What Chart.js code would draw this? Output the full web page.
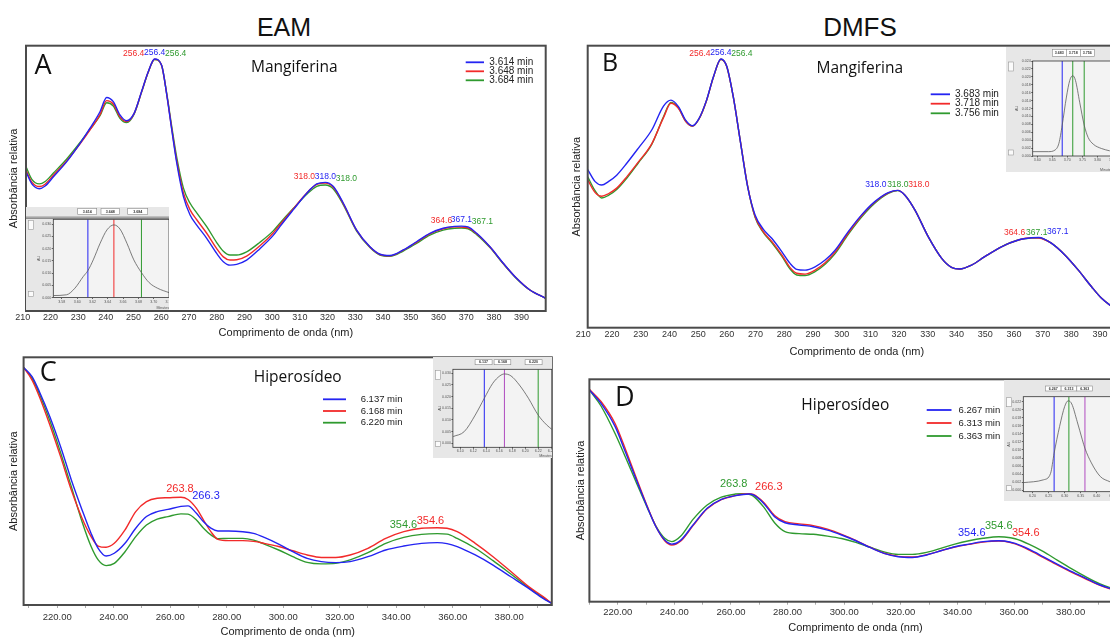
<!DOCTYPE html>
<html lang="pt">
<head>
<meta charset="utf-8">
<title>Espectros UV – mangiferina e hiperosídeo</title>
<script src="https://cdn.jsdelivr.net/npm/chart.js@4.4.1/dist/chart.umd.min.js"></script>
<style>
  html, body { margin: 0; width: 1110px; height: 637px; overflow: hidden; background: #fff; }
  canvas { position: absolute; }
  .head { position: absolute; transform: translate(-50%, -50%); font: 25px "Liberation Sans", Arial, sans-serif; color: #111; white-space: nowrap; }
</style>
</head>
<body>
<div class="head" style="left:284px;top:27px">EAM</div>
<div class="head" style="left:860px;top:27px;font-size:26px">DMFS</div>
<script>
// wavelength ticks shared by the four spectra
const tickNm = [210, 220, 230, 240, 250, 260, 270, 280, 290, 300, 310, 320, 330, 340, 350, 360, 370, 380, 390];

// ---- A: EAM, mangiferina (relative absorbance, 0-100) ----
const nmA = [210, 212.1, 214.8, 216.9, 219.9, 224.7, 229.5, 233.1, 236.7, 239.1, 241.5, 243.9, 246.3, 249, 251.7, 254.1, 256.4, 258.9, 260.8, 262.6,
  264.4, 266.8, 269.2, 271.6, 275.2, 278.8, 281.2, 283.6, 286, 289.6, 294.4, 299.2, 301.6, 306.4, 311.3, 314.9, 318, 320.9, 324.5, 329.3,
  334.1, 337.7, 341.3, 346.1, 350.9, 355.7, 360.5, 364.6, 367.1, 369.5, 372.6, 377.4, 382.2, 387, 391.8, 397.5];
const absA1 = [52.5, 47.9, 46.1, 47.1, 50.6, 56.3, 63.2, 68.9, 75.1, 80.5, 78.9, 73.9, 71.7, 74.5, 82.7, 90.2, 95.0, 92.7, 81.4, 68.2,
  55.7, 43.1, 36.2, 32.4, 27.4, 21.7, 18.6, 17.3, 17.6, 19.2, 23.5, 28.5, 31.8, 38.1, 44.4, 47.9, 48.5, 46.9, 40.6, 30.5,
  24.2, 21.4, 20.9, 23.0, 26.1, 29.3, 31.2, 31.9, 32.0, 31.7, 29.3, 24.2, 18.0, 12.3, 7.9, 4.8];
const absA2 = [53.1, 48.6, 46.9, 47.8, 51.2, 56.6, 63.0, 68.3, 74.0, 79.3, 78.0, 73.2, 71.4, 74.4, 82.6, 90.1, 94.9, 92.6, 81.5, 68.6,
  56.5, 44.5, 38.1, 34.4, 29.3, 23.5, 20.4, 19.2, 19.3, 20.7, 24.6, 29.4, 32.5, 38.5, 44.5, 47.7, 48.2, 46.6, 40.4, 30.4,
  24.1, 21.3, 20.8, 22.9, 25.9, 29.1, 31.0, 31.7, 31.6, 31.3, 29.1, 24.1, 17.9, 12.3, 7.9, 4.8];
const absA3 = [54.4, 49.6, 47.9, 48.8, 52.0, 57.3, 63.5, 68.5, 73.6, 78.5, 77.3, 72.6, 71.0, 74.2, 82.5, 90.0, 94.8, 92.6, 81.8, 69.4,
  57.8, 46.3, 40.6, 37.0, 31.8, 25.8, 22.5, 21.1, 21.1, 22.3, 25.9, 30.2, 33.1, 38.6, 44.0, 47.0, 47.5, 46.0, 40.0, 30.1,
  23.9, 21.1, 20.6, 22.6, 25.5, 28.6, 30.5, 31.2, 31.3, 31.0, 28.8, 23.9, 17.8, 12.2, 7.9, 4.8];
const timesA = ['3.614 min', '3.648 min', '3.684 min'];
const peaksA = [[256.4, 318.0, 367.1], [256.4, 318.0, 364.6], [256.4, 318.0, 367.1]];

// ---- B: DMFS, mangiferina ----
const nmB = [210, 212.6, 214.9, 217.2, 220.1, 223.6, 227.6, 232.3, 236.4, 239, 241.6, 244.1, 246.5, 248.8, 251.4, 253.8, 256.4, 258.4, 260.7, 263.1,
  265.7, 268.3, 271.2, 274.1, 277.6, 280.5, 282.8, 285.7, 289.2, 292.7, 296.1, 300.7, 305.4, 310, 314.7, 318, 320.5, 324, 328.6, 333.3,
  336.7, 339.6, 343.7, 348.3, 354.1, 360, 364.6, 367.1, 371.6, 376.2, 380.9, 385.5, 389, 391.9, 397.5];
const absB1 = [56.1, 51.8, 50.6, 51.8, 54.1, 58.3, 63.6, 70.1, 78.6, 80.7, 78.4, 73.6, 71.6, 74.2, 80.7, 89.0, 95.3, 92.8, 81.9, 66.5,
  50.0, 40.0, 34.9, 31.7, 27.0, 22.8, 20.7, 20.4, 21.6, 24.0, 27.4, 34.0, 40.0, 44.7, 47.9, 48.7, 47.0, 41.7, 32.3, 24.6,
  21.4, 20.8, 22.2, 25.2, 28.7, 31.1, 31.9, 32.0, 29.9, 25.8, 20.4, 14.5, 10.4, 8.0, 4.5];
const absB2 = [52.4, 47.9, 46.6, 47.5, 49.5, 53.5, 58.7, 65.2, 74.5, 79.6, 77.8, 73.2, 71.5, 74.1, 80.6, 88.9, 95.2, 92.7, 81.9, 66.6,
  50.3, 39.4, 34.0, 30.6, 25.8, 21.3, 19.3, 19.0, 20.4, 23.0, 26.7, 33.5, 39.7, 44.5, 47.8, 48.7, 47.0, 41.7, 32.3, 24.6,
  21.4, 20.8, 22.2, 25.2, 28.7, 31.1, 31.9, 31.8, 29.9, 25.8, 20.4, 14.5, 10.4, 8.0, 4.5];
const absB3 = [53.5, 48.5, 46.0, 46.9, 49.0, 53.0, 58.4, 65.0, 74.8, 79.9, 78.0, 73.3, 71.5, 74.1, 80.6, 88.9, 95.2, 92.7, 81.9, 66.6,
  50.2, 39.2, 33.7, 30.2, 25.4, 20.8, 18.7, 18.5, 19.9, 22.5, 26.2, 33.0, 39.2, 44.1, 47.6, 48.6, 47.0, 41.7, 32.3, 24.6,
  21.4, 20.8, 22.2, 25.2, 28.7, 31.1, 31.8, 31.9, 29.9, 25.8, 20.4, 14.5, 10.4, 8.0, 4.5];
const timesB = ['3.683 min', '3.718 min', '3.756 min'];
const peaksB = [[256.4, 318.0, 367.1], [256.4, 318.0, 364.6], [256.4, 318.0, 367.1]];

// ---- C: EAM, hiperosídeo ----
const nmC = [208.1, 211.1, 213.7, 217.4, 221.2, 225, 228.8, 232, 234.5, 237.3, 240.2, 244, 247.8, 251.6, 255.4, 259.2, 263.8, 266.3, 269.3, 271.8,
  274.4, 276.9, 280.7, 285.7, 289.5, 293.3, 298.4, 303.4, 308.5, 313.5, 318.6, 323.7, 330, 336.3, 342.7, 349, 354.6, 358, 361.6, 368,
  374.3, 380.6, 386.9, 392, 395];
const absC1 = [95.9, 92.2, 86.1, 76.0, 63.9, 50.5, 38.4, 28.9, 22.9, 19.8, 20.9, 24.9, 31.0, 35.7, 37.7, 38.6, 39.8, 40.0, 37.0, 33.6,
  31.0, 29.9, 29.9, 29.6, 28.9, 27.3, 24.6, 21.5, 18.8, 17.5, 17.1, 17.5, 19.5, 22.2, 23.8, 24.9, 25.2, 24.8, 23.6, 20.2,
  16.1, 11.4, 6.7, 2.7, 0.7];
const absC2 = [95.9, 90.8, 84.1, 72.7, 59.9, 46.4, 35.0, 27.6, 23.8, 23.3, 24.9, 30.3, 37.7, 41.7, 43.1, 43.3, 43.5, 42.6, 39.0, 34.3,
  29.6, 26.5, 26.0, 26.0, 25.7, 24.9, 23.6, 21.9, 20.2, 19.2, 19.2, 20.2, 22.9, 26.9, 29.6, 31.0, 31.2, 31.0, 29.6, 24.9,
  19.5, 13.5, 7.4, 3.4, 0.7];
const absC3 = [95.9, 91.5, 85.2, 74.4, 61.5, 47.8, 33.6, 23.6, 18.2, 15.9, 16.8, 21.5, 27.6, 32.3, 34.7, 35.7, 36.8, 36.7, 34.3, 31.0,
  28.3, 26.8, 26.9, 26.9, 26.2, 24.6, 22.2, 19.5, 17.2, 16.6, 16.8, 18.2, 21.1, 24.9, 27.3, 28.5, 28.8, 28.6, 26.9, 22.9,
  17.9, 12.5, 7.0, 3.0, 0.7];
const timesC = ['6.137 min', '6.168 min', '6.220 min'];
const peaksC = [[266.3], [263.8, 354.6], [354.6]];

// ---- D: DMFS, hiperosídeo ----
const nmD = [210, 214.1, 219.1, 222.9, 226.6, 230.4, 233.5, 236.6, 239.1, 242.3, 246.6, 251.6, 256.6, 261.6, 263.8, 266.3, 267.9, 271.6, 275.4, 279.1,
  284.1, 289.1, 294.1, 299.1, 304.1, 309.1, 314.1, 319.1, 324.1, 329.1, 334.1, 339.1, 344.1, 349.1, 354.6, 356.6, 360.4, 365.4, 370.4, 375.4,
  380.4, 385.4, 390.4, 393.9, 398];
const absD1 = [95.2, 89.2, 78.7, 66.7, 54.7, 42.7, 33.7, 27.7, 25.9, 27.7, 34.5, 42.0, 46.0, 47.7, 48.1, 48.4, 48.0, 44.2, 38.2, 35.5,
  34.5, 33.7, 32.2, 30.0, 27.4, 24.4, 21.7, 20.2, 19.9, 21.0, 22.9, 24.7, 25.9, 27.0, 27.4, 27.3, 26.2, 23.5, 20.2, 16.8,
  13.5, 10.5, 7.5, 6.0, 4.6];
const absD2 = [95.5, 90.0, 80.0, 68.0, 55.5, 43.0, 33.8, 27.4, 25.5, 27.3, 34.2, 41.8, 45.9, 47.7, 48.3, 48.6, 48.2, 44.6, 38.8, 36.0,
  35.0, 34.2, 32.6, 30.3, 27.6, 24.5, 21.8, 20.4, 20.1, 21.1, 22.9, 24.6, 25.8, 26.8, 27.3, 27.2, 26.0, 23.2, 19.8, 16.4,
  13.2, 10.2, 7.3, 5.8, 4.5];
const absD3 = [95.2, 88.0, 75.5, 64.5, 53.5, 42.4, 34.0, 28.5, 27.0, 29.5, 37.0, 43.5, 47.0, 48.4, 48.6, 48.3, 47.5, 42.5, 35.5, 31.5,
  30.6, 30.3, 29.5, 28.4, 26.7, 24.5, 22.4, 21.3, 21.3, 22.2, 24.0, 25.9, 27.4, 28.5, 29.2, 29.1, 28.3, 25.8, 22.5, 18.6,
  14.8, 11.2, 8.0, 6.3, 4.7];
const timesD = ['6.267 min', '6.313 min', '6.363 min'];
const peaksD = [[354.6], [266.3, 354.6], [263.8, 354.6]];

// ---- chromatogram peaks in the insets (min, AU) ----
const tInA = [3.569, 3.586, 3.597, 3.608, 3.614, 3.621, 3.630, 3.639, 3.648, 3.656, 3.665, 3.674, 3.684, 3.694, 3.705, 3.720];
const auInA = [0.0008, 0.0011, 0.0038, 0.0086, 0.0110, 0.0154, 0.0222, 0.0277, 0.0297, 0.0280, 0.0222, 0.0154, 0.0102, 0.0061, 0.0038, 0.0020];
const cutsA = [3.614, 3.648, 3.684];
const tInB = [3.585, 3.637, 3.659, 3.672, 3.683, 3.697, 3.708, 3.718, 3.727, 3.741, 3.756, 3.769, 3.786, 3.813, 3.841];
const auInB = [0.0011, 0.0011, 0.0015, 0.0032, 0.0078, 0.0149, 0.0191, 0.0203, 0.0191, 0.0136, 0.0078, 0.0047, 0.0030, 0.0019, 0.0013];
const cutsB = [3.683, 3.718, 3.756];
const tInC = [6.089, 6.106, 6.123, 6.137, 6.150, 6.161, 6.168, 6.178, 6.191, 6.205, 6.220, 6.233, 6.241];
const auInC = [0.0029, 0.0050, 0.0121, 0.0193, 0.0257, 0.0289, 0.0297, 0.0289, 0.0250, 0.0193, 0.0121, 0.0079, 0.0060];
const cutsC = [6.137, 6.168, 6.220];
const tInD = [6.171, 6.234, 6.256, 6.267, 6.284, 6.300, 6.311, 6.322, 6.339, 6.355, 6.363, 6.383, 6.411, 6.441];
const auInD = [0.0019, 0.0026, 0.0042, 0.0092, 0.0158, 0.0208, 0.0222, 0.0214, 0.0170, 0.0125, 0.0104, 0.0068, 0.0034, 0.0021];
const cutsD = [6.267, 6.313, 6.363];

const BLUE = '#2424f2', RED = '#f22a2a', GREEN = '#2f9a2f', PURPLE = '#b04cc0';
const LINE = [BLUE, RED, GREEN];

Chart.defaults.font.family = '"Liberation Sans", Arial, sans-serif';
Chart.defaults.color = '#333';

function addCanvas(left, top, w, h) {
  const c = document.createElement('canvas');
  c.width = w; c.height = h;
  c.style.left = left + 'px';
  c.style.top = top + 'px';
  document.body.appendChild(c);
  return c;
}

// frame, panel letter, compound name, legend and the λmax labels
function decor(d) {
  return {
    id: 'decor',
    afterDatasetsDraw(chart) {
      const { ctx, chartArea: a, scales: { x, y } } = chart;
      const sets = chart.data.datasets;
      ctx.save();
      ctx.strokeStyle = '#4b4b4b';
      ctx.lineWidth = 2;
      ctx.strokeRect(a.left, a.top, a.width, a.height);

      ctx.textAlign = 'center';
      ctx.textBaseline = 'middle';
      ctx.fillStyle = '#111';
      ctx.font = d.letterSize + 'px "Open Sans"';
      ctx.fillText(d.letter, a.left + d.letterAt[0], a.top + d.letterAt[1]);
      ctx.font = '15.5px "Open Sans"';
      ctx.fillText(d.name, a.left + d.nameAt[0], a.top + d.nameAt[1]);

      ctx.font = d.legendSize + 'px "Liberation Sans"';
      ctx.textAlign = 'left';
      sets.forEach((s, i) => {
        const yy = a.top + d.rows[i];
        ctx.strokeStyle = s.borderColor;
        ctx.lineWidth = 1.8;
        ctx.beginPath();
        ctx.moveTo(a.left + d.swatch[0], yy);
        ctx.lineTo(a.left + d.swatch[1], yy);
        ctx.stroke();
        ctx.fillStyle = '#222';
        ctx.fillText(s.label, a.left + d.textX, yy);
      });

      ctx.font = d.peakSize + 'px "Liberation Sans"';
      ctx.textAlign = 'center';
      d.peaks.forEach((list, i) => list.forEach((nm, j) => {
        const pt = sets[i].data.find(p => p.x === nm);
        const [dx, dy] = d.shift[i][j];
        ctx.fillStyle = sets[i].borderColor;
        ctx.fillText(nm.toFixed(1), x.getPixelForValue(nm) + dx, y.getPixelForValue(pt.y) + dy);
      }));
      ctx.restore();
    }
  };
}

function spectrum(p) {
  const LH = 11 * 1.2;
  const [fl, ft, fr, fb] = p.frame;
  const cl = p.left, ct = Math.floor(ft - 2);
  const cw = Math.ceil(fr + 2 - cl), ch = Math.ceil(p.titleY + LH / 2 + 1 - ct);
  const cv = addCanvas(cl, ct, cw, ch);
  const xh = ct + ch - fb;
  new Chart(cv, {
    type: 'line',
    data: {
      datasets: p.series.map((v, i) => ({
        label: p.times[i],
        data: p.nm.map((nm, k) => ({ x: nm, y: v[k] })),
        borderColor: LINE[i],
        borderWidth: 1.4,
        pointRadius: 0,
        cubicInterpolationMode: 'monotone',
        fill: false
      }))
    },
    options: {
      responsive: false,
      animation: false,
      events: [],
      layout: { autoPadding: false, padding: { left: 0, top: ft - ct, right: cl + cw - fr, bottom: 0 } },
      plugins: { legend: { display: false }, tooltip: { enabled: false } },
      scales: {
        x: {
          type: 'linear', min: p.min, max: p.max,
          afterBuildTicks: s => { s.ticks = tickNm.map(value => ({ value })); },
          afterFit: s => { s.height = xh; s.paddingLeft = 0; s.paddingRight = 0; },
          grid: { display: p.marks, drawOnChartArea: false, drawTicks: p.marks, tickLength: 3, color: '#aaa' },
          border: { display: false },
          ticks: {
            autoSkip: false, maxRotation: 0, padding: p.tickPad, labelOffset: p.labelOffset,
            color: '#333', font: { size: p.tickSize }, callback: p.fmt
          },
          title: {
            display: true, text: 'Comprimento de onda (nm)', color: '#222', font: { size: 11 },
            padding: { top: 0, bottom: ct + ch - LH / 2 - p.titleY }
          }
        },
        y: {
          min: 0, max: 100,
          afterFit: s => { s.width = fl - cl; s.paddingTop = 0; s.paddingBottom = 0; },
          ticks: { display: false },
          grid: { display: false },
          border: { display: false },
          title: {
            display: true, text: 'Absorbância relativa', color: '#222', font: { size: 11 },
            padding: { top: p.titleX - cl - LH / 2, bottom: 0 }
          }
        }
      }
    },
    plugins: [decor(p.decor)]
  });
}

// small chromatogram with the three spectrum cuts
function inset(q) {
  const [bl, bt, bw, bh] = q.box;
  const [al, at, ar, ab] = q.area;
  const cv = addCanvas(bl, bt, bw, bh);
  const sets = [{
    data: q.t.map((t, k) => ({ x: t, y: q.au[k] })),
    borderColor: '#5c5c5c', borderWidth: 0.8, pointRadius: 0, cubicInterpolationMode: 'monotone'
  }];
  q.cuts.forEach((c, i) => sets.push({
    data: [{ x: c, y: q.y[0] }, { x: c, y: q.y[1] }],
    borderColor: q.cutColors[i], borderWidth: 1, pointRadius: 0
  }));
  const tiny = { size: 3.6 };
  new Chart(cv, {
    type: 'line',
    data: { datasets: sets },
    options: {
      responsive: false,
      animation: false,
      events: [],
      layout: { autoPadding: false, padding: { left: 0, top: at - bt, right: bl + bw - ar, bottom: 0 } },
      plugins: { legend: { display: false }, tooltip: { enabled: false } },
      scales: {
        x: {
          type: 'linear', min: q.x[0], max: q.x[1],
          afterFit: s => { s.height = bt + bh - ab; s.paddingLeft = 0; s.paddingRight = 0; },
          grid: { drawOnChartArea: false, tickLength: 1.5, color: '#666' },
          border: { display: false },
          ticks: { stepSize: q.xStep, includeBounds: false, autoSkip: false, maxRotation: 0, padding: 0.5, color: '#555', font: tiny, callback: v => v.toFixed(2) },
          title: { display: true, text: 'Minutes', align: 'end', color: '#555', font: tiny, padding: 0 }
        },
        y: {
          min: q.y[0], max: q.y[1],
          afterFit: s => { s.width = al - bl; s.paddingTop = 0; s.paddingBottom = 0; },
          grid: { drawOnChartArea: false, tickLength: 1.5, color: '#666' },
          border: { display: false },
          ticks: { stepSize: q.yStep, includeBounds: false, autoSkip: false, padding: 0.5, color: '#555', font: tiny, callback: v => v.toFixed(3) },
          title: { display: true, text: 'AU', color: '#555', font: tiny, padding: { top: q.auX - 2.2, bottom: 0 } }
        }
      }
    },
    plugins: [{
      id: 'insetFrame',
      beforeDraw(chart) {
        const { ctx, chartArea: a, width, height } = chart;
        ctx.save();
        ctx.fillStyle = '#e7e7e7';
        ctx.fillRect(0, 0, width, height);
        ctx.fillStyle = '#f3f3f3';
        ctx.fillRect(a.left, a.top, a.width, a.height);
        if (q.rule) {
          ctx.strokeStyle = '#6a6a6a';
          ctx.lineWidth = 0.8;
          [a.top - 2.2, a.top - 0.9].forEach(yy => {
            ctx.beginPath(); ctx.moveTo(0, yy); ctx.lineTo(width, yy); ctx.stroke();
          });
        }
        ctx.font = 'bold 3.6px "Liberation Sans"';
        ctx.textAlign = 'center';
        ctx.textBaseline = 'middle';
        q.cells.forEach(([cx, cy, w, h], i) => {
          ctx.fillStyle = '#fff';
          ctx.fillRect(cx, cy, w, h);
          ctx.strokeStyle = '#8a8a8a';
          ctx.lineWidth = 0.6;
          ctx.strokeRect(cx, cy, w, h);
          ctx.fillStyle = '#333';
          ctx.fillText(q.cuts[i].toFixed(3), cx + w / 2, cy + h / 2);
        });
        ctx.fillStyle = '#fbfbfb';
        ctx.strokeStyle = '#999';
        ctx.lineWidth = 0.6;
        [[a.top + 1, 9], [a.bottom - 6, 5]].forEach(([yy, h]) => {
          ctx.fillRect(2.5, yy, 5, h);
          ctx.strokeRect(2.5, yy, 5, h);
        });
        ctx.restore();
      },
      afterDraw(chart) {
        const { ctx, chartArea: a } = chart;
        ctx.save();
        ctx.strokeStyle = '#333';
        ctx.lineWidth = 0.8;
        ctx.strokeRect(a.left, a.top, a.width, a.height);
        ctx.restore();
      }
    }]
  });
}

const plainNm = v => String(v);
const fixedNm = v => (v % 20 === 0 ? v.toFixed(2) : '');

spectrum({
  left: 0, frame: [26, 45.7, 545.7, 311], titleX: 14, titleY: 333.3,
  min: 210, max: 397.5, marks: false, tickPad: 0.9, labelOffset: -3.3, tickSize: 9, fmt: plainNm,
  nm: nmA, series: [absA1, absA2, absA3], times: timesA,
  decor: {
    letter: 'A', letterSize: 27, letterAt: [17, 21], name: 'Mangiferina', nameAt: [268.3, 21.6],
    legendSize: 10, swatch: [439.7, 458], textX: 463.3, rows: [16.6, 25.6, 34.6],
    peakSize: 8.5, peaks: peaksA,
    shift: [[[0, -6], [0, -6], [0, -6]], [[-21, -6], [-21, -6], [-13, -6]], [[21, -6], [21, -6], [21, -6]]]
  }
});

spectrum({
  left: 567, frame: [587.7, 45.7, 1126, 327.7], titleX: 577, titleY: 351.7,
  min: 210, max: 397.5, marks: false, tickPad: 1.9, labelOffset: -4.4, tickSize: 9, fmt: plainNm,
  nm: nmB, series: [absB1, absB2, absB3], times: timesB,
  decor: {
    letter: 'B', letterSize: 25, letterAt: [22.3, 18.6], name: 'Mangiferina', nameAt: [272.1, 23.3],
    legendSize: 10, swatch: [343, 362.3], textX: 367.3, rows: [48.6, 58, 67.6],
    peakSize: 8.5, peaks: peaksB,
    shift: [[[0, -6], [-22, -5.5], [19, -5.5]], [[-21, -6], [21, -5.5], [-17, -5.5]], [[21, -6], [0, -5.5], [-2, -5.5]]]
  }
});

spectrum({
  left: 0, frame: [23.6, 357.3, 551.8, 605], titleX: 14.3, titleY: 631.7,
  min: 208.1, max: 395.1, marks: true, tickPad: 3.6, labelOffset: 0, tickSize: 9.5, fmt: fixedNm,
  nm: nmC, series: [absC1, absC2, absC3], times: timesC,
  decor: {
    letter: 'C', letterSize: 27, letterAt: [24.6, 16], name: 'Hiperosídeo', nameAt: [274.1, 20],
    legendSize: 9.5, swatch: [299.4, 322.4], textX: 337.1, rows: [42, 53.7, 65.4],
    peakSize: 11, peaks: peaksC,
    shift: [[[18, -10]], [[-1, -8], [-7, -7]], [[-34, -9]]]
  }
});

spectrum({
  left: 569, frame: [589.4, 379.3, 1121.6, 601.7], titleX: 581.2, titleY: 627.7,
  min: 210, max: 398, marks: true, tickPad: 2.3, labelOffset: 0, tickSize: 9.5, fmt: fixedNm,
  nm: nmD, series: [absD1, absD2, absD3], times: timesD,
  decor: {
    letter: 'D', letterSize: 27, letterAt: [35.3, 19], name: 'Hiperosídeo', nameAt: [255.9, 26.7],
    legendSize: 9.5, swatch: [337.3, 362.1], textX: 369.1, rows: [30.7, 43.7, 56.7],
    peakSize: 11, peaks: peaksD,
    shift: [[[-27, -8]], [[20, -7], [27, -8]], [[-8, -10], [0, -11]]]
  }
});

inset({
  box: [26, 207, 143, 103], area: [53.3, 219.3, 169, 297.5],
  t: tInA, au: auInA, cuts: cutsA, cutColors: [BLUE, RED, GREEN],
  x: [3.5688, 3.72], xStep: 0.02, y: [0, 0.032], yStep: 0.005, auX: 13, rule: true,
  cells: [[51.7, 1.5, 19, 6], [75, 1.5, 18.3, 6], [101.7, 1.5, 20, 6]]
});

inset({
  box: [1006, 47, 107, 125], area: [1032.7, 61, 1112.5, 156],
  t: tInB, au: auInB, cuts: cutsB, cutColors: [BLUE, GREEN, GREEN],
  x: [3.585, 3.85], xStep: 0.05, y: [0, 0.024], yStep: 0.002, auX: 11.3, rule: false,
  cells: [[46.3, 2.3, 14, 7], [60.3, 2.3, 14, 7], [74.3, 2.3, 14, 7]]
});

inset({
  box: [433, 357, 119, 101], area: [452.9, 369.3, 551.8, 447.3],
  t: tInC, au: auInC, cuts: cutsC, cutColors: [BLUE, PURPLE, GREEN],
  x: [6.0886, 6.241], xStep: 0.02, y: [-0.0017, 0.0317], yStep: 0.005, auX: 7, rule: false,
  cells: [[42.1, 2.7, 17, 5], [61.1, 2.7, 16.7, 5], [92.1, 2.7, 17, 5]]
});

inset({
  box: [1004, 380, 119, 121], area: [1023.3, 396.7, 1122.5, 491.7],
  t: tInD, au: auInD, cuts: cutsD, cutColors: [BLUE, GREEN, PURPLE],
  x: [6.171, 6.48], xStep: 0.05, y: [-0.00035, 0.0232], yStep: 0.002, auX: 5, rule: false,
  cells: [[41.4, 6, 15.7, 5], [57.1, 6, 15.7, 5], [72.8, 6, 15.7, 5]]
});
</script>
</body>
</html>
